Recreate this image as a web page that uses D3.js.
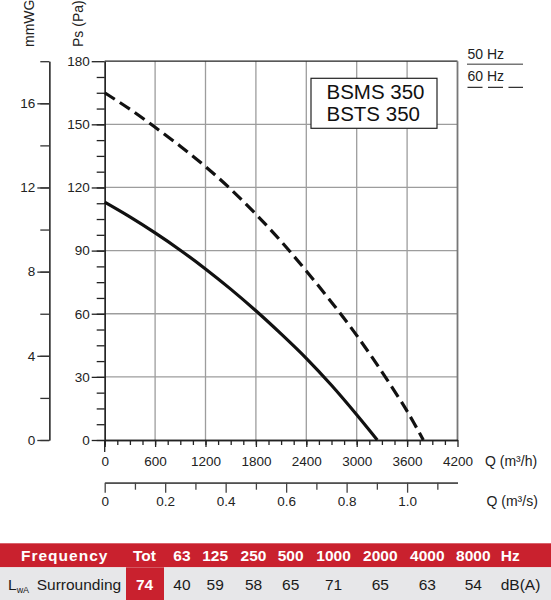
<!DOCTYPE html>
<html>
<head>
<meta charset="utf-8">
<script src="https://cdn.jsdelivr.net/npm/d3@7"></script>
<style>
  body { margin: 0; background: #fff; }
  svg { font-family: "Liberation Sans", Arial, sans-serif; }
</style>
</head>
<body>
<svg id="chart" width="551" height="600"></svg>
<script>
// curve 50 Hz (solid)
const flow50 = [0, 300, 600, 900, 1200, 1500, 1800, 2100, 2400, 2700, 3000, 3245];
const press50 = [113, 106, 98.4, 90.2, 81.3, 71.7, 61.4, 50.4, 38.8, 26, 12, 0];
// curve 60 Hz (dashed)
const flow60 = [0, 300, 600, 900, 1200, 1500, 1800, 2100, 2400, 2700, 3000, 3300, 3600, 3793];
const press60 = [165, 157.2, 148.6, 139.6, 129.9, 119.2, 107.3, 94.4, 80.3, 65.5, 49.7, 32.4, 13.7, 0];

const models = ["BSMS 350", "BSTS 350"];
const freqLabels = ["63", "125", "250", "500", "1000", "2000", "4000", "8000"];
const lwaValues = [40, 59, 58, 65, 71, 65, 63, 54];
const lwaTotal = 74;

const svg = d3.select("#chart");

// scales
const x = d3.scaleLinear().domain([0, 4200]).range([104.7, 457.5]);
const xs = d3.scaleLinear().domain([0, 4200 / 3600]).range([104.7, 457.5]);
const y = d3.scaleLinear().domain([0, 180]).range([440, 61.2]);
const ymm = d3.scaleLinear().domain([0, 18]).range([440, 61.2]);

// grid
const grid = svg.append("g").attr("stroke", "#9d9d9d").attr("stroke-width", 1.3);
grid.selectAll("line.h").data(d3.range(30, 180, 30)).join("line")
  .attr("x1", x(0)).attr("x2", x(4200)).attr("y1", d => y(d)).attr("y2", d => y(d));
grid.selectAll("line.v").data(d3.range(600, 4200, 600)).join("line").attr("class", "v")
  .attr("y1", y(0)).attr("y2", y(180)).attr("x1", d => x(d)).attr("x2", d => x(d));

// frame
svg.append("line").attr("x1", x(0)).attr("x2", x(4200)).attr("y1", y(180)).attr("y2", y(180))
  .attr("stroke", "#222").attr("stroke-width", 1.3);
svg.append("line").attr("x1", x(4200)).attr("x2", x(4200)).attr("y1", y(180)).attr("y2", y(0))
  .attr("stroke", "#777").attr("stroke-width", 1.8);

function styleAxis(g, col, size) {
  g.selectAll("path, line").attr("stroke", col).attr("stroke-width", 1.3);
  g.selectAll("text").attr("fill", "#222").attr("font-size", size).attr("font-family", null);
}

// Ps axis
svg.append("g").attr("transform", `translate(${x(0)},0)`)
  .call(d3.axisLeft(y).tickValues(d3.range(0, 180, 7.5)).tickSize(8).tickSizeOuter(0).tickFormat(""))
  .call(g => styleAxis(g, "#222", 13.5));
svg.append("g").attr("transform", `translate(${x(0)},0)`)
  .call(d3.axisLeft(y).tickValues(d3.range(0, 181, 30)).tickSize(13).tickSizeOuter(0).tickPadding(2))
  .call(g => styleAxis(g, "#222", 13.5));

// mmWG axis
svg.append("g").attr("transform", "translate(49.3,0)")
  .call(d3.axisLeft(ymm).tickValues(d3.range(0, 19, 2)).tickSize(9).tickSizeOuter(0).tickFormat(""))
  .call(g => styleAxis(g, "#333", 13.5));
svg.append("g").attr("transform", "translate(49.3,0)")
  .call(d3.axisLeft(ymm).tickValues([0, 4, 8, 12, 16]).tickSize(12).tickSizeOuter(0).tickPadding(2))
  .call(g => styleAxis(g, "#333", 13.5));

// Q m3/h axis
svg.append("g").attr("transform", `translate(0,${y(0)})`)
  .call(d3.axisBottom(x).tickValues(d3.range(0, 4200, 150)).tickSize(5).tickSizeOuter(0).tickFormat(""))
  .call(g => styleAxis(g, "#222", 13.5));
svg.append("g").attr("transform", `translate(0,${y(0)})`)
  .call(d3.axisBottom(x).tickValues(d3.range(0, 4201, 600)).tickSize(7).tickSizeOuter(0).tickPadding(9.4)
    .tickFormat(d3.format("d")))
  .call(g => styleAxis(g, "#222", 13.5));
svg.append("line").attr("x1", x(0)).attr("x2", x(0)).attr("y1", y(0)).attr("y2", y(0) + 12)
  .attr("stroke", "#222").attr("stroke-width", 1.3);

// Q m3/s axis
svg.append("g").attr("transform", "translate(0,482.7)")
  .call(d3.axisBottom(xs).tickValues(d3.range(1, 12, 2).map(d => d / 10)).tickSize(7).tickSizeOuter(0).tickFormat(""))
  .call(g => styleAxis(g, "#444", 13.5));
svg.append("g").attr("transform", "translate(0,482.7)")
  .call(d3.axisBottom(xs).tickValues([0, 0.2, 0.4, 0.6, 0.8, 1.0]).tickSize(10).tickSizeOuter(0).tickPadding(3.7)
    .tickFormat(d => d === 0 ? "0" : d3.format(".1f")(d)))
  .call(g => styleAxis(g, "#444", 13.5));

// axis titles
svg.append("text").attr("transform", "translate(34.3,47) rotate(-90)")
  .attr("font-size", 14).attr("fill", "#222").text("mmWG");
svg.append("text").attr("transform", "translate(82.5,47) rotate(-90)")
  .attr("font-size", 14).attr("fill", "#222").text("Ps (Pa)");
svg.append("text").attr("x", 485).attr("y", 466).attr("font-size", 14).attr("fill", "#222").text("Q (m³/h)");
svg.append("text").attr("x", 486.5).attr("y", 506).attr("font-size", 14).attr("fill", "#222").text("Q (m³/s)");

// curves
const line = d3.line().x(d => x(d[0])).y(d => y(d[1])).curve(d3.curveCatmullRom);
svg.append("path").datum(d3.zip(flow50, press50)).attr("d", line)
  .attr("fill", "none").attr("stroke", "#111").attr("stroke-width", 3.2);
svg.append("path").datum(d3.zip(flow60, press60)).attr("d", line)
  .attr("fill", "none").attr("stroke", "#111").attr("stroke-width", 3.2).attr("stroke-dasharray", "12,6");

// model box
svg.append("rect").attr("x", 311).attr("y", 78.3).attr("width", 126).attr("height", 50)
  .attr("fill", "#fff").attr("stroke", "#222").attr("stroke-width", 1.2);
svg.selectAll("text.model").data(models).join("text").attr("class", "model")
  .attr("x", 326.5).attr("y", (d, i) => 98.5 + i * 22.3)
  .attr("font-size", 20.5).attr("fill", "#111").text(d => d);

// frequency legend
svg.append("text").attr("x", 467.5).attr("y", 59.3).attr("font-size", 14).attr("fill", "#222").text("50 Hz");
svg.append("line").attr("x1", 467).attr("x2", 523).attr("y1", 64.3).attr("y2", 64.3)
  .attr("stroke", "#777").attr("stroke-width", 1.6);
svg.append("text").attr("x", 467.5).attr("y", 81).attr("font-size", 14).attr("fill", "#222").text("60 Hz");
svg.append("line").attr("x1", 467.5).attr("x2", 523).attr("y1", 87.3).attr("y2", 87.3)
  .attr("stroke", "#333").attr("stroke-width", 1.3).attr("stroke-dasharray", "15,5.5");

// sound table
const red = "#c9212e";
const colX = [181.9, 215.2, 253.5, 290.7, 333.6, 380.3, 427.3, 473.3];
svg.append("rect").attr("x", 0).attr("y", 543.3).attr("width", 551).attr("height", 24).attr("fill", red);
svg.append("rect").attr("x", 0).attr("y", 567.3).attr("width", 551).attr("height", 33).attr("fill", "#e7e7e9");
svg.append("rect").attr("x", 126).attr("y", 567.3).attr("width", 38).attr("height", 33).attr("fill", red);

const head = svg.append("g").attr("fill", "#fff").attr("font-weight", "bold").attr("font-size", 15.5);
head.append("text").attr("x", 64.7).attr("y", 561).attr("text-anchor", "middle")
  .attr("letter-spacing", 1).text("Frequency");
head.append("text").attr("x", 144.5).attr("y", 561).attr("text-anchor", "middle").text("Tot");
head.selectAll("text.f").data(freqLabels).join("text").attr("class", "f")
  .attr("x", (d, i) => colX[i]).attr("y", 561).attr("text-anchor", "middle").text(d => d);
head.append("text").attr("x", 500.7).attr("y", 561).text("Hz");

const row = svg.append("g").attr("fill", "#1a1a1a").attr("font-size", 15.5);
const lab = row.append("text").attr("x", 8).attr("y", 590);
lab.append("tspan").text("L");
lab.append("tspan").attr("font-size", 9).attr("dy", 3).text("wA");
lab.append("tspan").attr("x", 36.7).attr("dy", -3).text("Surrounding");
row.append("text").attr("x", 144.5).attr("y", 590).attr("text-anchor", "middle")
  .attr("fill", "#fff").attr("font-weight", "bold").text(lwaTotal);
row.selectAll("text.v").data(lwaValues).join("text").attr("class", "v")
  .attr("x", (d, i) => colX[i]).attr("y", 590).attr("text-anchor", "middle").text(d => d);
row.append("text").attr("x", 500.7).attr("y", 590).text("dB(A)");
</script>
</body>
</html>
